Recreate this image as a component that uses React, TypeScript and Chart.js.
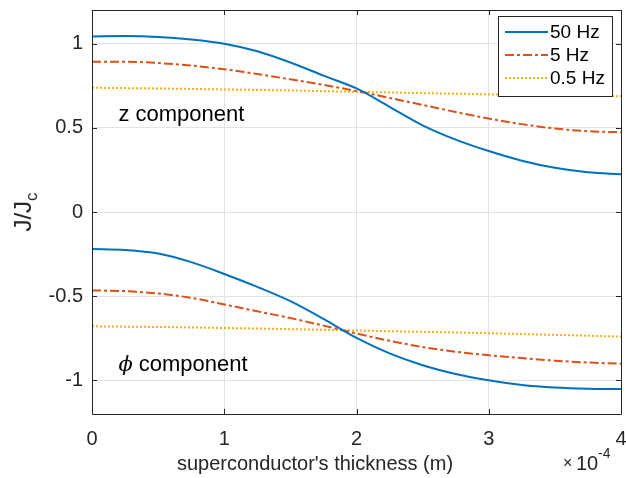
import React, { useEffect, useRef } from "react";
import { Chart, registerables } from "chart.js";

Chart.register(...registerables);

// thickness in units of 1e-4 m
const thickness = [0, 0.25, 0.5, 0.75, 1, 1.25, 1.5, 1.75, 2, 2.25, 2.5, 2.75, 3, 3.25, 3.5, 3.75, 4];

const z50 = [1.043, 1.045, 1.04, 1.025, 1.0, 0.955, 0.888, 0.81, 0.734, 0.625, 0.515, 0.43, 0.362, 0.305, 0.263, 0.236, 0.224];
const z5 = [0.893, 0.893, 0.885, 0.87, 0.848, 0.82, 0.788, 0.755, 0.718, 0.678, 0.636, 0.594, 0.555, 0.522, 0.496, 0.48, 0.474];
const z05 = [0.738, 0.736, 0.734, 0.731, 0.728, 0.725, 0.722, 0.718, 0.714, 0.71, 0.706, 0.703, 0.699, 0.696, 0.693, 0.69, 0.688];

const phi50 = [-0.22, -0.226, -0.247, -0.298, -0.368, -0.445, -0.53, -0.635, -0.748, -0.84, -0.91, -0.962, -1.0, -1.028, -1.043, -1.05, -1.052];
const phi5 = [-0.466, -0.47, -0.484, -0.51, -0.549, -0.59, -0.63, -0.675, -0.722, -0.765, -0.802, -0.83, -0.851, -0.868, -0.883, -0.894, -0.901];
const phi05 = [-0.679, -0.681, -0.683, -0.686, -0.689, -0.692, -0.696, -0.7, -0.704, -0.708, -0.712, -0.716, -0.72, -0.725, -0.73, -0.735, -0.74];

const xTicks = [0, 1, 2, 3, 4];
const yTicks = [-1, -0.5, 0, 0.5, 1];
const xRange = [0, 4];
const yRange = [-1.2, 1.2];

const legendLabels = ["50 Hz", "5 Hz", "0.5 Hz"];
const xTitle = "superconductor's thickness (m)";
const yTitleMain = "J/J";
const yTitleSub = "c";
const zNote = "z component";
const phiNote = "component";

const BLUE = "#0072BD";
const ORANGE = "#D95319";
const YELLOW = "#EDB120";
const DASHES: number[][] = [[], [9, 3, 3, 3], [2, 2]];
const COLORS = [BLUE, ORANGE, YELLOW];
const FONT = "'Liberation Sans', Arial, Helvetica, sans-serif";
const AXIS = "#262626";

function pts(ys: number[]) {
  return thickness.map((x, i) => ({ x, y: ys[i] }));
}

export default function App() {
  const ref = useRef<HTMLCanvasElement | null>(null);

  useEffect(() => {
    const canvas = ref.current;
    if (!canvas) return;

    const series = [
      { label: legendLabels[0], data: z50, k: 0 },
      { label: legendLabels[1], data: z5, k: 1 },
      { label: legendLabels[2], data: z05, k: 2 },
      { label: legendLabels[0] + " phi", data: phi50, k: 0 },
      { label: legendLabels[1] + " phi", data: phi5, k: 1 },
      { label: legendLabels[2] + " phi", data: phi05, k: 2 },
    ];

    const decor = {
      id: "decor",
      afterDraw(chart: any) {
        const ctx = chart.ctx as CanvasRenderingContext2D;
        const { left, right, top, bottom } = chart.chartArea;
        const xs = chart.scales.x;
        const ys = chart.scales.y;
        ctx.save();
        // frame
        ctx.strokeStyle = AXIS;
        ctx.lineWidth = 1;
        ctx.beginPath();
        ctx.rect(Math.round(left) + 0.5, Math.round(top) + 0.5, Math.round(right - left), Math.round(bottom - top));
        ctx.stroke();
        // inward ticks
        const tl = 5;
        ctx.beginPath();
        for (const v of xTicks) {
          const px = Math.round(xs.getPixelForValue(v)) + 0.5;
          ctx.moveTo(px, bottom);
          ctx.lineTo(px, bottom - tl);
          ctx.moveTo(px, top);
          ctx.lineTo(px, top + tl);
        }
        for (const v of yTicks) {
          const py = Math.round(ys.getPixelForValue(v)) + 0.5;
          ctx.moveTo(left, py);
          ctx.lineTo(left + tl, py);
          ctx.moveTo(right, py);
          ctx.lineTo(right - tl, py);
        }
        ctx.stroke();

        // legend
        const lx0 = 498, ly0 = 16, lw = 114, lh = 80;
        ctx.fillStyle = "#ffffff";
        ctx.fillRect(lx0, ly0, lw, lh);
        ctx.strokeStyle = AXIS;
        ctx.strokeRect(lx0 + 0.5, ly0 + 0.5, lw, lh);
        ctx.font = `19px ${FONT}`;
        ctx.textBaseline = "middle";
        ctx.textAlign = "left";
        const rows = [32, 55, 78];
        for (let i = 0; i < 3; i++) {
          ctx.strokeStyle = COLORS[i];
          ctx.lineWidth = 2;
          ctx.setLineDash(DASHES[i]);
          ctx.beginPath();
          ctx.moveTo(505, rows[i]);
          ctx.lineTo(548, rows[i]);
          ctx.stroke();
          ctx.setLineDash([]);
          ctx.fillStyle = "#000";
          ctx.fillText(legendLabels[i], 550, rows[i] + 1);
        }

        // annotations
        ctx.fillStyle = "#000";
        ctx.textBaseline = "alphabetic";
        ctx.font = `22px ${FONT}`;
        ctx.fillText(zNote, xs.getPixelForValue(0.2), ys.getPixelForValue(0.54));
        const phx = xs.getPixelForValue(0.2);
        const phy = ys.getPixelForValue(-0.947);
        ctx.font = `italic 21px 'DejaVu Serif', serif`;
        ctx.fillText("\u03d5", phx, phy);
        const pw = ctx.measureText("\u03d5").width;
        ctx.font = `22px ${FONT}`;
        ctx.fillText(phiNote, phx + pw + 6, phy);

        // x title
        ctx.font = `20px ${FONT}`;
        ctx.textAlign = "center";
        ctx.fillStyle = "#262626";
        ctx.fillText(xTitle, 315, 470);
        // multiplier
        ctx.textAlign = "left";
        ctx.textBaseline = "middle";
        ctx.font = `16px ${FONT}`;
        ctx.fillText("\u00d7", 563, 464);
        ctx.textBaseline = "alphabetic";
        ctx.font = `20px ${FONT}`;
        ctx.fillText("10", 576, 470);
        ctx.font = `14px ${FONT}`;
        ctx.fillText("-4", 598, 458);

        // y title
        ctx.save();
        ctx.translate(31, (top + bottom) / 2);
        ctx.rotate(-Math.PI / 2);
        ctx.textBaseline = "alphabetic";
        ctx.font = `24px ${FONT}`;
        const mw = ctx.measureText(yTitleMain).width;
        ctx.font = `17px ${FONT}`;
        const sw = ctx.measureText(yTitleSub).width;
        const tot = mw + sw;
        ctx.textAlign = "left";
        ctx.font = `24px ${FONT}`;
        ctx.fillText(yTitleMain, -tot / 2, 0);
        ctx.font = `17px ${FONT}`;
        ctx.fillText(yTitleSub, -tot / 2 + mw, 6);
        ctx.restore();

        ctx.restore();
      },
    };

    const chart = new Chart(canvas, {
      type: "line",
      data: {
        datasets: series.map((s) => ({
          label: s.label,
          data: pts(s.data),
          borderColor: COLORS[s.k],
          backgroundColor: COLORS[s.k],
          borderWidth: 2,
          borderDash: DASHES[s.k],
          pointRadius: 0,
          fill: false,
          cubicInterpolationMode: "monotone" as const,
        })),
      },
      options: {
        animation: false,
        responsive: false,
        devicePixelRatio: 1,
        layout: { padding: { top: 10, right: 5, left: 0, bottom: 0 } },
        plugins: { legend: { display: false }, tooltip: { enabled: false } },
        scales: {
          x: {
            type: "linear",
            min: xRange[0],
            max: xRange[1],
            afterBuildTicks: (s: any) => {
              s.ticks = xTicks.map((v) => ({ value: v }));
            },
            afterFit: (s: any) => {
              s.height = 64;
              s.paddingLeft = 0;
              s.paddingRight = 0;
            },
            grid: { color: "#e3e3e3", drawTicks: false, lineWidth: 1 },
            border: { display: false },
            ticks: {
              padding: 13,
              color: "#262626",
              font: { family: FONT, size: 20 },
              maxRotation: 0,
              autoSkip: false,
              callback: (v: any) => String(v),
            },
          },
          y: {
            type: "linear",
            min: yRange[0],
            max: yRange[1],
            afterBuildTicks: (s: any) => {
              s.ticks = yTicks.map((v) => ({ value: v }));
            },
            afterFit: (s: any) => {
              s.width = 92;
              s.paddingTop = 0;
              s.paddingBottom = 0;
            },
            grid: { color: "#e3e3e3", drawTicks: false, lineWidth: 1 },
            border: { display: false },
            ticks: {
              padding: 9,
              color: "#262626",
              font: { family: FONT, size: 20 },
              autoSkip: false,
              callback: (v: any) => String(v),
            },
          },
        },
      },
      plugins: [decor],
    });

    return () => chart.destroy();
  }, []);

  return (
    <div style={{ position: "fixed", left: 0, top: 0, width: 626, height: 478, background: "#fff" }}>
      <canvas ref={ref} width={626} height={478} style={{ display: "block", width: 626, height: 478 }} />
    </div>
  );
}
